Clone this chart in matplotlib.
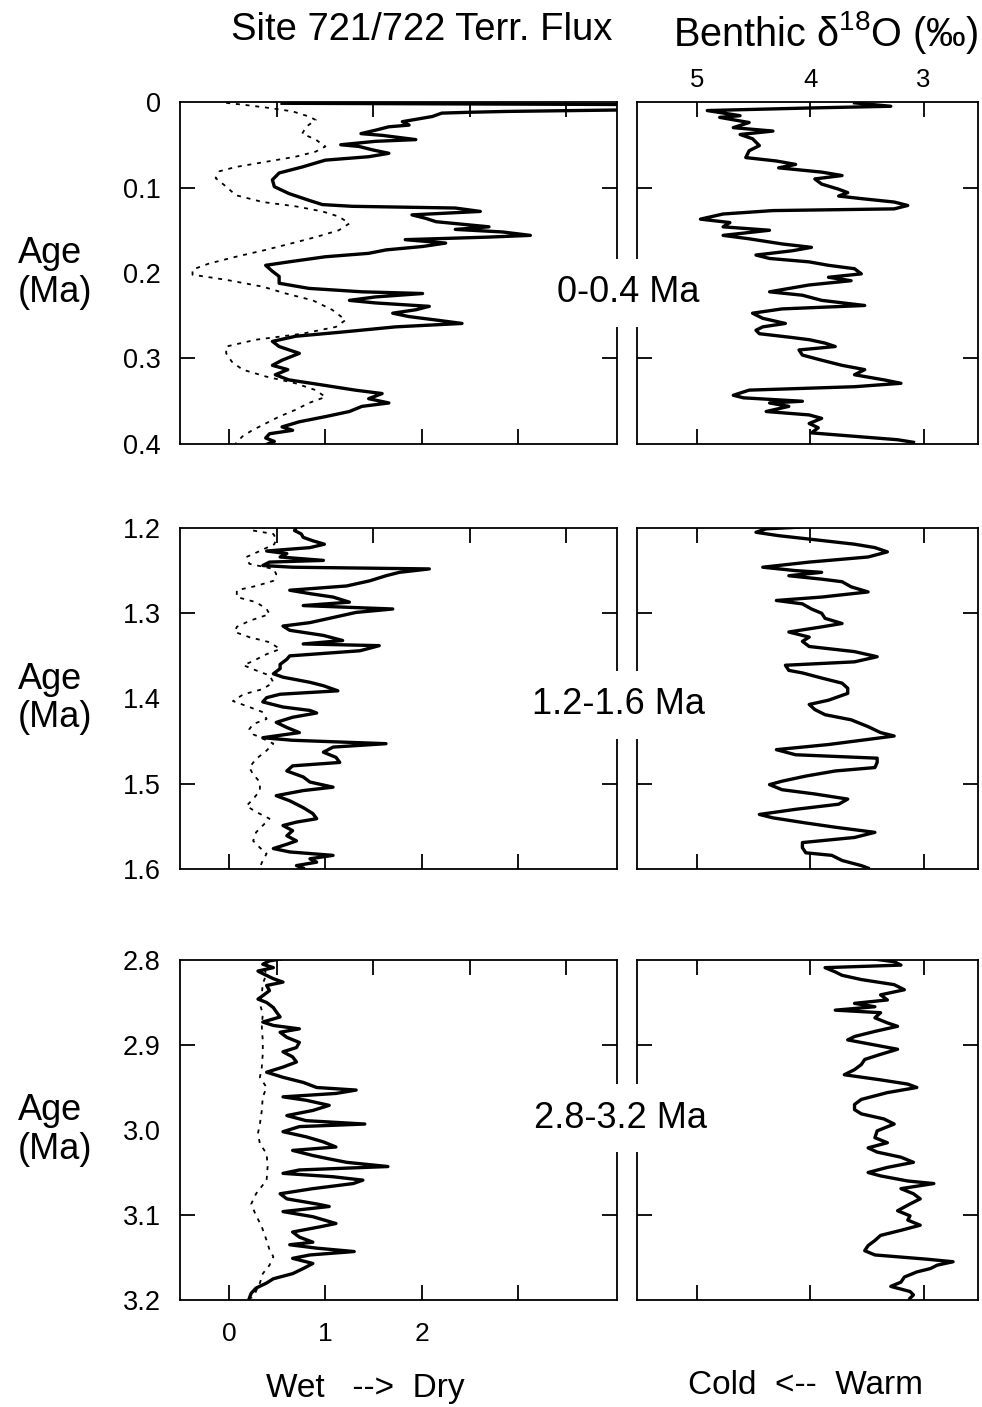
import numpy as np
import matplotlib
matplotlib.use('Agg')
import matplotlib.pyplot as plt

plt.rcParams['font.family'] = ['Liberation Sans', 'DejaVu Sans']
plt.rcParams['mathtext.fontset'] = 'custom'
plt.rcParams['mathtext.rm'] = 'Liberation Sans'

NARROW = ['Liberation Sans Narrow', 'Liberation Sans', 'DejaVu Sans']

# ---------------- 0-0.4 Ma ----------------
flux_age_0 = [0.0015, 0.003, 0.009, 0.011, 0.012, 0.013, 0.017, 0.023, 0.027, 0.029,
              0.033, 0.037, 0.039, 0.044, 0.046, 0.050, 0.052, 0.056, 0.060, 0.064,
              0.068, 0.076, 0.083, 0.091, 0.099, 0.107, 0.115, 0.120, 0.122, 0.124,
              0.128, 0.132, 0.136, 0.140, 0.146, 0.149, 0.152, 0.156, 0.158, 0.161,
              0.165, 0.169, 0.173, 0.177, 0.181, 0.187, 0.191, 0.198, 0.204, 0.212,
              0.218, 0.222, 0.224, 0.228, 0.232, 0.235, 0.239, 0.243, 0.247, 0.251,
              0.255, 0.259, 0.263, 0.269, 0.274, 0.280, 0.286, 0.294, 0.302, 0.308,
              0.313, 0.319, 0.325, 0.331, 0.337, 0.341, 0.347, 0.352, 0.356, 0.362,
              0.368, 0.374, 0.380, 0.384, 0.388, 0.393, 0.397, 0.400]
flux_0 = [0.55, 4.3, 4.3, 2.9, 2.5, 2.21, 2.11, 1.80, 1.87, 1.66,
          1.52, 1.37, 1.59, 1.94, 1.52, 1.16, 1.35, 1.49, 1.66, 1.45,
          1.00, 0.76, 0.52, 0.45, 0.47, 0.62, 0.83, 0.97, 1.28, 2.35,
          2.61, 1.90, 2.04, 2.15, 2.70, 2.35, 2.84, 3.13, 2.70, 1.83,
          2.25, 2.01, 1.63, 1.45, 1.00, 0.62, 0.38, 0.45, 0.52, 0.52,
          0.83, 1.38, 2.01, 1.52, 1.25, 1.52, 2.08, 1.94, 1.70, 1.87,
          2.15, 2.42, 1.73, 1.18, 0.69, 0.45, 0.52, 0.73, 0.55, 0.45,
          0.61, 0.48, 0.62, 0.97, 1.31, 1.59, 1.45, 1.66, 1.38, 1.25,
          1.00, 0.73, 0.55, 0.66, 0.42, 0.38, 0.47, 0.40]
ref_age_0 = [0.001, 0.0035, 0.007, 0.011, 0.017, 0.021, 0.029, 0.037, 0.044, 0.052,
             0.058, 0.064, 0.070, 0.076, 0.081, 0.089, 0.099, 0.109, 0.117, 0.122,
             0.128, 0.134, 0.142, 0.150, 0.158, 0.165, 0.173, 0.181, 0.189, 0.196,
             0.202, 0.208, 0.216, 0.224, 0.232, 0.243, 0.255, 0.263, 0.271, 0.278,
             0.286, 0.294, 0.304, 0.313, 0.321, 0.329, 0.337, 0.345, 0.352, 0.360,
             0.368, 0.376, 0.384, 0.391, 0.399]
ref_0 = [-0.03, 0.17, 0.42, 0.66, 0.83, 0.90, 0.80, 0.76, 0.90, 1.00,
         0.90, 0.69, 0.38, 0.07, -0.10, -0.14, -0.03, 0.07, 0.35, 0.69,
         0.97, 1.14, 1.25, 1.14, 0.90, 0.66, 0.38, 0.07, -0.21, -0.38,
         -0.38, -0.03, 0.35, 0.59, 0.87, 1.07, 1.21, 1.11, 0.76, 0.28,
         -0.03, -0.03, 0.03, 0.14, 0.38, 0.69, 0.90, 1.00, 0.83, 0.69,
         0.52, 0.38, 0.24, 0.14, 0.07]
iso_age_0 = [0.001, 0.005, 0.007, 0.010, 0.016, 0.018, 0.024, 0.030, 0.034, 0.038,
             0.043, 0.051, 0.057, 0.065, 0.069, 0.073, 0.077, 0.082, 0.086, 0.090,
             0.096, 0.102, 0.106, 0.110, 0.113, 0.117, 0.121, 0.125, 0.127, 0.131,
             0.137, 0.141, 0.146, 0.150, 0.156, 0.160, 0.166, 0.170, 0.174, 0.179,
             0.183, 0.187, 0.191, 0.195, 0.201, 0.205, 0.209, 0.214, 0.222, 0.226,
             0.232, 0.238, 0.242, 0.247, 0.253, 0.259, 0.263, 0.267, 0.271, 0.275,
             0.278, 0.282, 0.286, 0.290, 0.296, 0.302, 0.308, 0.313, 0.319, 0.325,
             0.329, 0.333, 0.337, 0.343, 0.346, 0.350, 0.352, 0.356, 0.362, 0.366,
             0.370, 0.376, 0.381, 0.387, 0.391, 0.395, 0.398]
iso_0 = [3.61, 3.29, 4.01, 4.91, 4.62, 4.80, 4.54, 4.68, 4.33, 4.62,
         4.51, 4.45, 4.54, 4.57, 4.30, 4.13, 4.28, 3.90, 3.72, 3.96,
         3.90, 3.75, 3.67, 3.75, 3.55, 3.26, 3.14, 3.26, 4.33, 4.77,
         4.97, 4.71, 4.77, 4.36, 4.77, 4.54, 4.25, 3.99, 4.16, 4.48,
         4.36, 4.01, 3.84, 3.61, 3.55, 3.84, 3.64, 4.01, 4.36, 4.07,
         3.90, 3.52, 4.25, 4.51, 4.42, 4.22, 4.42, 4.48, 4.45, 4.19,
         4.01, 3.87, 3.78, 4.10, 4.07, 3.90, 3.72, 3.52, 3.61, 3.35,
         3.20, 3.61, 4.54, 4.68, 4.59, 4.07, 4.36, 4.19, 4.39, 4.01,
         3.90, 4.01, 3.93, 3.99, 3.61, 3.23, 3.09]

# ---------------- 1.2-1.6 Ma ----------------
flux_age_1 = [1.199, 1.203, 1.207, 1.211, 1.215, 1.219, 1.223, 1.227, 1.230, 1.234,
              1.238, 1.240, 1.244, 1.246, 1.248, 1.252, 1.256, 1.262, 1.268, 1.273,
              1.277, 1.281, 1.287, 1.291, 1.295, 1.299, 1.305, 1.311, 1.315, 1.320,
              1.326, 1.332, 1.336, 1.338, 1.344, 1.350, 1.354, 1.360, 1.365, 1.371,
              1.375, 1.381, 1.385, 1.391, 1.395, 1.399, 1.404, 1.410, 1.414, 1.417,
              1.422, 1.428, 1.434, 1.440, 1.446, 1.449, 1.453, 1.457, 1.463, 1.469,
              1.475, 1.479, 1.485, 1.492, 1.498, 1.504, 1.508, 1.514, 1.520, 1.528,
              1.535, 1.541, 1.545, 1.549, 1.555, 1.561, 1.567, 1.571, 1.576, 1.580,
              1.584, 1.588, 1.592, 1.596, 1.599]
flux_1 = [0.70, 0.68, 0.75, 0.77, 0.87, 0.99, 0.84, 0.39, 0.60, 0.53,
          0.98, 0.42, 0.35, 0.66, 2.08, 1.77, 1.63, 1.46, 1.22, 0.63,
          0.84, 1.08, 1.25, 0.77, 1.70, 1.32, 1.08, 0.84, 0.56, 0.63,
          0.98, 1.18, 0.77, 1.56, 1.36, 0.63, 0.60, 0.53, 0.53, 0.46,
          0.56, 0.84, 0.98, 1.13, 0.53, 0.39, 0.35, 0.56, 0.84, 0.91,
          0.66, 0.49, 0.60, 0.73, 0.35, 0.66, 1.63, 1.08, 0.98, 1.11,
          1.15, 0.66, 0.60, 0.77, 0.84, 1.08, 0.77, 0.49, 0.63, 0.77,
          0.87, 0.91, 0.70, 0.56, 0.66, 0.60, 0.70, 0.60, 0.46, 0.63,
          1.08, 0.84, 0.91, 0.70, 0.77]
ref_age_1 = [1.203, 1.207, 1.213, 1.219, 1.229, 1.234, 1.242, 1.248, 1.254, 1.262,
             1.268, 1.273, 1.281, 1.287, 1.295, 1.301, 1.309, 1.316, 1.322, 1.328,
             1.334, 1.342, 1.348, 1.356, 1.361, 1.367, 1.373, 1.381, 1.389, 1.395,
             1.403, 1.410, 1.416, 1.424, 1.430, 1.436, 1.442, 1.447, 1.453, 1.461,
             1.471, 1.481, 1.489, 1.498, 1.508, 1.518, 1.526, 1.533, 1.541, 1.549,
             1.557, 1.567, 1.575, 1.582, 1.590, 1.598]
ref_1 = [0.25, 0.46, 0.49, 0.47, 0.28, 0.18, 0.21, 0.46, 0.49, 0.46,
         0.28, 0.08, 0.08, 0.28, 0.39, 0.42, 0.21, 0.08, 0.06, 0.21,
         0.42, 0.53, 0.39, 0.25, 0.15, 0.28, 0.42, 0.46, 0.35, 0.15,
         0.04, 0.21, 0.35, 0.39, 0.25, 0.21, 0.25, 0.35, 0.46, 0.39,
         0.28, 0.21, 0.25, 0.32, 0.32, 0.25, 0.18, 0.28, 0.42, 0.35,
         0.28, 0.25, 0.32, 0.39, 0.35, 0.32]
iso_age_1 = [1.199, 1.201, 1.205, 1.209, 1.213, 1.219, 1.223, 1.228, 1.234, 1.240,
             1.246, 1.250, 1.252, 1.256, 1.260, 1.263, 1.269, 1.275, 1.281, 1.285,
             1.289, 1.295, 1.300, 1.306, 1.312, 1.316, 1.322, 1.328, 1.333, 1.339,
             1.345, 1.351, 1.357, 1.361, 1.367, 1.370, 1.376, 1.382, 1.388, 1.394,
             1.402, 1.407, 1.413, 1.419, 1.425, 1.433, 1.440, 1.444, 1.448, 1.454,
             1.460, 1.466, 1.470, 1.475, 1.481, 1.485, 1.491, 1.497, 1.501, 1.507,
             1.512, 1.518, 1.524, 1.530, 1.536, 1.540, 1.546, 1.551, 1.557, 1.563,
             1.569, 1.575, 1.581, 1.584, 1.590, 1.596, 1.599]
iso_1 = [4.10, 4.39, 4.48, 4.28, 4.01, 3.61, 3.43, 3.32, 3.49, 4.01,
         4.42, 4.13, 3.90, 4.19, 3.90, 3.72, 3.64, 3.49, 3.90, 4.30,
         4.07, 3.99, 3.90, 3.87, 3.72, 3.90, 4.19, 4.01, 4.07, 4.01,
         3.61, 3.41, 3.61, 4.22, 4.19, 4.07, 3.90, 3.72, 3.67, 3.67,
         3.84, 4.01, 3.96, 3.87, 3.64, 3.49, 3.38, 3.26, 3.49, 3.84,
         4.30, 4.13, 3.41, 3.41, 3.43, 3.78, 4.04, 4.25, 4.36, 4.25,
         3.96, 3.67, 3.75, 4.13, 4.45, 4.33, 4.04, 3.78, 3.43, 3.61,
         4.07, 4.07, 4.04, 3.81, 3.72, 3.55, 3.49]

# ---------------- 2.8-3.2 Ma ----------------
flux_age_2 = [2.799, 2.801, 2.805, 2.809, 2.813, 2.816, 2.822, 2.826, 2.830, 2.836,
              2.842, 2.846, 2.850, 2.856, 2.861, 2.867, 2.873, 2.877, 2.881, 2.885,
              2.891, 2.897, 2.903, 2.908, 2.914, 2.920, 2.926, 2.932, 2.938, 2.944,
              2.950, 2.953, 2.957, 2.961, 2.965, 2.971, 2.977, 2.983, 2.989, 2.993,
              2.996, 3.002, 3.008, 3.014, 3.020, 3.024, 3.030, 3.034, 3.038, 3.043,
              3.047, 3.051, 3.055, 3.059, 3.063, 3.069, 3.075, 3.081, 3.087, 3.090,
              3.096, 3.102, 3.110, 3.114, 3.120, 3.126, 3.132, 3.135, 3.139, 3.143,
              3.147, 3.151, 3.157, 3.163, 3.169, 3.175, 3.180, 3.186, 3.192, 3.198]
flux_2 = [0.53, 0.42, 0.35, 0.46, 0.30, 0.35, 0.46, 0.56, 0.39, 0.42,
          0.35, 0.30, 0.39, 0.46, 0.49, 0.53, 0.35, 0.46, 0.73, 0.53,
          0.60, 0.73, 0.70, 0.56, 0.66, 0.70, 0.56, 0.39, 0.56, 0.77,
          0.91, 1.32, 1.11, 0.56, 0.80, 1.04, 0.87, 0.60, 0.80, 1.41,
          0.73, 0.56, 0.80, 0.98, 1.11, 0.66, 0.87, 1.04, 1.22, 1.65,
          0.73, 0.56, 1.08, 1.39, 1.29, 0.87, 0.53, 0.60, 0.91, 1.04,
          0.56, 0.87, 1.11, 0.94, 0.66, 0.73, 0.87, 0.63, 0.91, 1.30,
          0.84, 0.66, 0.87, 0.77, 0.66, 0.46, 0.39, 0.28, 0.23, 0.21]
ref_age_2 = [2.801, 2.809, 2.816, 2.828, 2.840, 2.852, 2.863, 2.879, 2.895, 2.910,
             2.926, 2.938, 2.950, 2.961, 2.977, 2.993, 3.004, 3.016, 3.028, 3.043,
             3.059, 3.075, 3.087, 3.098, 3.114, 3.130, 3.141, 3.149, 3.159, 3.169,
             3.180, 3.192, 3.198]
ref_2 = [0.39, 0.35, 0.39, 0.35, 0.34, 0.32, 0.35, 0.34, 0.35, 0.35,
         0.34, 0.32, 0.39, 0.35, 0.34, 0.32, 0.30, 0.32, 0.39, 0.40,
         0.39, 0.28, 0.23, 0.27, 0.34, 0.39, 0.42, 0.46, 0.42, 0.35,
         0.32, 0.27, 0.23]
iso_age_2 = [2.799, 2.802, 2.806, 2.809, 2.814, 2.818, 2.823, 2.829, 2.835, 2.841,
             2.847, 2.851, 2.855, 2.859, 2.862, 2.868, 2.874, 2.878, 2.884, 2.890,
             2.894, 2.900, 2.905, 2.911, 2.917, 2.923, 2.929, 2.935, 2.941, 2.946,
             2.950, 2.956, 2.964, 2.970, 2.976, 2.981, 2.987, 2.993, 3.001, 3.009,
             3.015, 3.021, 3.026, 3.032, 3.038, 3.044, 3.050, 3.054, 3.060, 3.063,
             3.069, 3.075, 3.081, 3.087, 3.095, 3.101, 3.106, 3.112, 3.118, 3.124,
             3.130, 3.136, 3.142, 3.147, 3.152, 3.155, 3.159, 3.163, 3.167, 3.173,
             3.179, 3.184, 3.190, 3.194, 3.198]
iso_2 = [3.43, 3.26, 3.20, 3.87, 3.78, 3.72, 3.55, 3.26, 3.17, 3.38,
         3.32, 3.61, 3.43, 3.78, 3.38, 3.43, 3.32, 3.23, 3.43, 3.61,
         3.67, 3.43, 3.23, 3.38, 3.52, 3.55, 3.61, 3.70, 3.38, 3.14,
         3.06, 3.32, 3.55, 3.61, 3.61, 3.55, 3.35, 3.26, 3.41, 3.43,
         3.32, 3.49, 3.41, 3.20, 3.09, 3.32, 3.49, 3.38, 3.14, 2.91,
         3.20, 3.09, 3.03, 3.12, 3.23, 3.12, 3.14, 3.03, 3.20, 3.38,
         3.43, 3.49, 3.52, 3.43, 2.97, 2.74, 2.88, 2.94, 3.06, 3.17,
         3.20, 3.29, 3.12, 3.09, 3.12]

# axis labels / ticks
age_ranges = [(0.0, 0.4), (1.2, 1.6), (2.8, 3.2)]
age_tick_labels = [['0', '0.1', '0.2', '0.3', '0.4'],
                   ['1.2', '1.3', '1.4', '1.5', '1.6'],
                   ['2.8', '2.9', '3.0', '3.1', '3.2']]
range_labels = ['0-0.4 Ma', '1.2-1.6 Ma', '2.8-3.2 Ma']
flux_ticks = [0, 1, 2, 3]
flux_tick_labels = ['0', '1', '2', '']
flux_top_ticks = [0.5, 1.5, 2.5, 3.5]
iso_ticks = [5, 4, 3]
iso_tick_labels = ['5', '4', '3']

series = [
    (flux_age_0, flux_0, ref_age_0, ref_0, iso_age_0, iso_0),
    (flux_age_1, flux_1, ref_age_1, ref_1, iso_age_1, iso_1),
    (flux_age_2, flux_2, ref_age_2, ref_2, iso_age_2, iso_2),
]

W, H = 982, 1407
fig = plt.figure(figsize=(W / 100, H / 100), dpi=100)


def rect(x0, x1, y0, y1):
    return [x0 / W, 1 - y1 / H, (x1 - x0) / W, (y1 - y0) / H]


rows_px = [(102, 444), (528, 869), (960, 1300)]
label_px = [(628, 293), (618, 705), (620, 1118)]

for i, (top, bot) in enumerate(rows_px):
    fa, fv, ra, rv, ia, iv = series[i]
    lo, hi = age_ranges[i]
    step = (hi - lo) / 4
    yt = [lo + k * step for k in range(5)]
    yodd = [lo + step, lo + 3 * step]

    axL = fig.add_axes(rect(180, 617, top, bot))
    axL.plot(rv, ra, color='k', lw=1.3, ls=(0, (2.2, 3.2)))
    axL.plot(fv, fa, color='k', lw=2.4)
    axL.set_xlim(-0.51, 4.03)
    axL.set_ylim(hi, lo)
    axL.set_yticks(yt, age_tick_labels[i])
    axL.set_yticks(yodd, minor=True)
    axL.yaxis.remove_overlapping_locs = False
    axL.tick_params(axis='y', which='major', length=0, pad=14, labelsize=19.5)
    axL.tick_params(axis='y', which='minor', direction='in', length=11, width=1.3,
                    left=True, right=True)
    if i == 2:
        axL.set_xticks(flux_ticks, flux_tick_labels, family=NARROW)
    else:
        axL.set_xticks(flux_ticks, [])
    axL.set_xticks(flux_top_ticks, minor=True)
    axL.tick_params(axis='x', which='major', direction='in', length=11, width=1.3,
                    top=False, bottom=True, labelsize=19, pad=16)
    axL.tick_params(axis='x', which='minor', direction='in', length=11, width=1.3,
                    top=True, bottom=False)

    axR = fig.add_axes(rect(637, 978, top, bot))
    axR.plot(iv, ia, color='k', lw=2.4)
    axR.set_xlim(5.53, 2.52)
    axR.set_ylim(hi, lo)
    axR.set_xticks(iso_ticks, iso_tick_labels)
    axR.set_yticks(yodd, [])
    axR.tick_params(axis='x', direction='in', length=11, width=1.3, top=True,
                    bottom=True, labeltop=(i == 0), labelbottom=False,
                    labelsize=18.5, pad=7)
    axR.tick_params(axis='y', direction='in', length=11, width=1.3, left=True,
                    right=True, labelleft=False)

    for ax in (axL, axR):
        for sp in ax.spines.values():
            sp.set_linewidth(1.3)

    fig.text(18 / W, 1 - ((top + bot) / 2) / H, 'Age\n(Ma)', ha='left',
             va='center', fontsize=26, linespacing=1.12)
    lx, ly = label_px[i]
    fig.text(lx / W, 1 - ly / H, range_labels[i], ha='center', va='center',
             fontsize=26, zorder=5,
             bbox=dict(boxstyle='square,pad=0.45', fc='white', ec='none'))

fig.text(422 / W, 1 - 30 / H, 'Site 721/722 Terr. Flux', ha='center',
         va='center', fontsize=27.5)
fig.text(673 / W, 1 - 33 / H, 'Benthic δ$^{18}$O (‰)', ha='left',
         va='center', fontsize=28.5)
fig.text(365 / W, 1 - 1388 / H, 'Wet   -->  Dry', ha='center', va='center',
         fontsize=24, family=NARROW)
fig.text(806 / W, 1 - 1386 / H, 'Cold  <--  Warm', ha='center', va='center',
         fontsize=24, family=NARROW)

fig.savefig('out.png', dpi=100)
